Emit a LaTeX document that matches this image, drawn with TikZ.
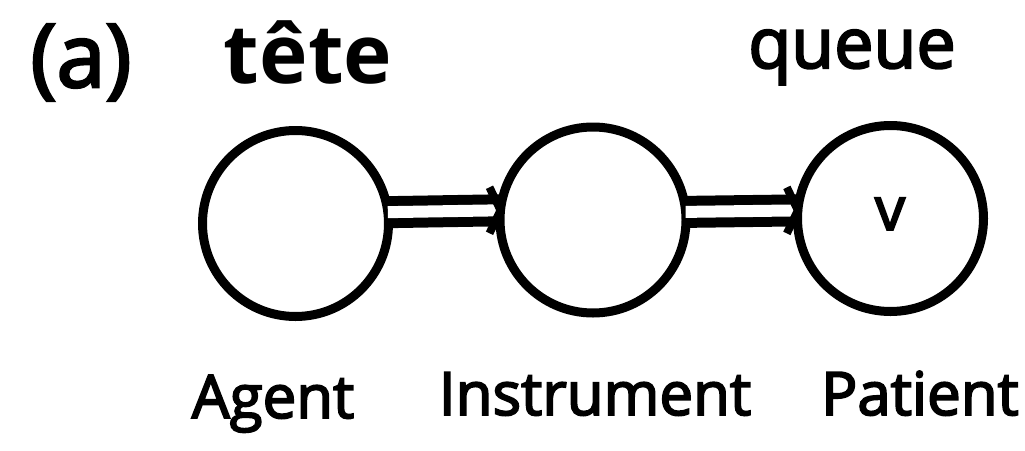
\documentclass[tikz,border=0pt]{standalone}
\usepackage{fontspec}
\setmainfont{Open Sans}
\newfontfamily\labfont{Open Sans}[FakeBold=3]
\usetikzlibrary{calc}
\begin{document}
\begin{tikzpicture}[x=1pt,y=-1pt,
  role/.style={circle,draw,line width=9pt,minimum size=186pt,inner sep=0pt,outer sep=0pt},
  lbl/.style={anchor=base,inner sep=0pt},
  link/.style={double,double distance=12pt,line width=10pt},
  tipline/.style={line width=8pt,line join=miter}]
\useasboundingbox (0,0) rectangle (1025,450);
\node[role] (c1) at (295.5,223.5) {};
\node[role] (c2) at (593,220) {};
\node[role] (c3) at (890.5,218.5) {};
\node[lbl,font=\labfont\fontsize{60}{70}\selectfont] (v) at (890,230) {v};
% connectors
\coordinate (s1) at (c1.7);
\coordinate (e1) at (c2.174.5);
\coordinate (s2) at (c2.5.5);
\coordinate (e2) at (c3.175.5);
\draw[link] (s1) -- (e1);
\draw[tipline] ($(e1)+(-11,-23)$) -- (e1) -- ($(e1)+(-11,23)$);
\draw[link] (s2) -- (e2);
\draw[tipline] ($(e2)+(-11,-23)$) -- (e2) -- ($(e2)+(-11,23)$);
% texts
\node[lbl,font=\labfont\fontsize{88}{100}\selectfont] (a) at (81,87) {(a)};
\node[lbl,font=\fontsize{82}{90}\selectfont\bfseries] (tete) at (308,83) {tête};
\node[lbl,font=\labfont\fontsize{70}{80}\selectfont] (queue) at (852,68) {queue};
\node[lbl,font=\labfont\fontsize{60}{70}\selectfont] (agent) at (273,418) {Agent};
\node[lbl,font=\labfont\fontsize{60}{70}\selectfont] (instr) at (595,415) {Instrument};
\node[lbl,font=\labfont\fontsize{60}{70}\selectfont] (pat) at (920,415) {Patient};
\end{tikzpicture}
\end{document}
